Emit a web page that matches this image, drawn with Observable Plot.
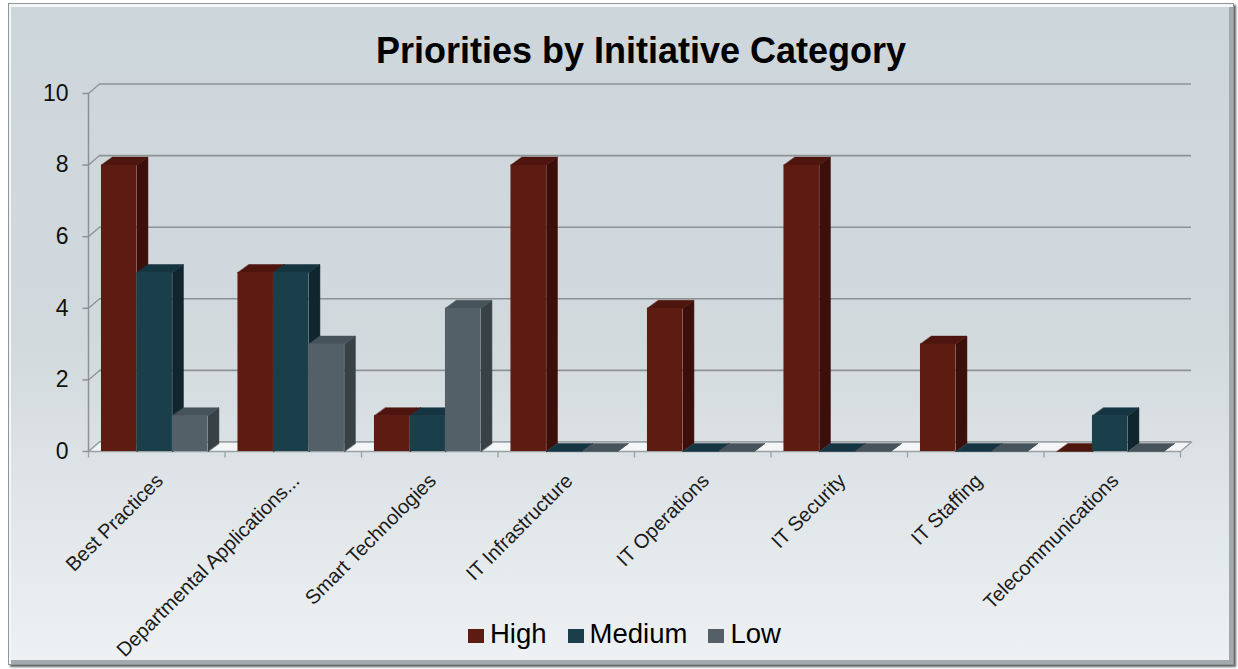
<!DOCTYPE html>
<html>
<head>
<meta charset="utf-8">
<script src="https://cdn.jsdelivr.net/npm/d3@7"></script>
<script src="https://cdn.jsdelivr.net/npm/@observablehq/plot@0.6"></script>
<style>
  body { margin: 0; width: 1238px; height: 669px; position: relative; overflow: hidden; background: #ffffff; font-family: "Liberation Sans", Arial, sans-serif; }
  #frame { position: absolute; left: 8px; top: 3px; width: 1226px; height: 662px; box-sizing: border-box;
    background: linear-gradient(#cdd6da 0%, #d1d9dd 50%, #eef1f3 100%);
    border: 1px solid #8f9699;
    box-shadow: inset 2px 3px 0 #f3f6f7, inset -4px -4px 0 #a3aaad, 2px 2px 2px #5d6366; }
  #chart { position: absolute; left: 0; top: 0; }
  #title { position: absolute; left: 0; top: 33px; width: 1282px; text-align: center; font-weight: bold; font-size: 36px; line-height: 35px; color: #000; }
  #legend { position: absolute; left: 468px; top: 620px; font-size: 27.5px; line-height: 27px; color: #000; white-space: nowrap; }
  #legend .item { display: inline-block; margin-right: 21px; }
  #legend .sw { display: inline-block; width: 16px; height: 14px; margin-right: 6px; vertical-align: baseline; }
</style>
</head>
<body>
<div id="frame"></div>
<div id="chart"></div>
<div id="title">Priorities by Initiative Category</div>
<div id="legend"></div>
<script>
// ---- data ----
const categories = ["Best Practices", "Departmental Applications...", "Smart Technologies", "IT Infrastructure", "IT Operations", "IT Security", "IT Staffing", "Telecommunications"];
const series = ["High", "Medium", "Low"];
const high   = [8, 5, 1, 8, 4, 8, 3, 0];
const medium = [5, 5, 1, 0, 0, 0, 0, 1];
const low    = [1, 3, 4, 0, 0, 0, 0, 0];
const yTicks = [0, 2, 4, 6, 8, 10];

// ---- styles / layout ----
const frontColors = ["#5e1b11", "#1b3e4b", "#536067"];
const sideColors  = ["#3d0f0a", "#0f262e", "#384246"];
const topColors   = ["#4d150e", "#163542", "#47535a"];
const W = 1238, H = 669, mL = 88, mR = 58, mT = 93, mB = 218;
const PX_X = (W - mL - mR) / categories.length;
const PX_Y = (H - mT - mB) / 10;
const DXW = 11 / PX_X, DYW = 9.5 / PX_Y;   // wall depth in data units
const DXB = 11 / PX_X, DYB = 8 / PX_Y;     // bar depth in data units
const BAR_START = 0.095, BAR_W = 0.26;

const valuesBySeries = [high, medium, low];
const rows = categories.flatMap((c, i) => series.map((s, k) => {
  const x1 = i + BAR_START + k * BAR_W;
  return {cat: c, i, k, series: s, value: valuesBySeries[k][i], x1, x2: x1 + BAR_W};
}));

const sidePts = rows.flatMap((d, j) => [
  {id: j, x: d.x2, y: 0, c: sideColors[d.k]},
  {id: j, x: d.x2, y: d.value, c: sideColors[d.k]},
  {id: j, x: d.x2 + DXB, y: d.value + DYB, c: sideColors[d.k]},
  {id: j, x: d.x2 + DXB, y: DYB, c: sideColors[d.k]}
]);
const topPts = rows.flatMap((d, j) => [
  {id: j, x: d.x1, y: d.value, c: topColors[d.k]},
  {id: j, x: d.x2, y: d.value, c: topColors[d.k]},
  {id: j, x: d.x2 + DXB, y: d.value + DYB, c: topColors[d.k]},
  {id: j, x: d.x1 + DXB, y: d.value + DYB, c: topColors[d.k]}
]);
const n = categories.length;
const floorPts = [{x: 0, y: 0}, {x: n, y: 0}, {x: n + DXW, y: DYW}, {x: DXW, y: DYW}];
const catTicks = d3.range(n + 1);

const plot = Plot.plot({
  width: W, height: H,
  marginLeft: mL, marginRight: mR, marginTop: mT, marginBottom: mB,
  x: {domain: [0, n], axis: null},
  y: {domain: [0, 10], axis: null},
  style: {background: "transparent", fontFamily: "'Liberation Sans', Arial, sans-serif", color: "#000"},
  marks: [
    // back wall gridlines
    Plot.ruleY(yTicks, {y: t => t + DYW, x1: DXW, x2: n + DXW, stroke: "#8c9295", strokeWidth: 1.6}),
    // diagonals from axis ticks to back wall
    Plot.link(yTicks, {x1: 0, y1: t => t, x2: DXW, y2: t => t + DYW, stroke: "#8c9295", strokeWidth: 1.3}),
    // floor
    Plot.line(floorPts, {x: "x", y: "y", curve: "linear-closed", fill: "#f3f5f6", stroke: "#9aa1a4", strokeWidth: 1.5}),
    // y axis line and ticks
    Plot.ruleX([0], {y1: 0, y2: 10, stroke: "#8c9295", strokeWidth: 1.5}),
    Plot.link(yTicks, {x1: -6 / PX_X, x2: 0, y1: t => t, y2: t => t, stroke: "#8c9295", strokeWidth: 1.5}),
    Plot.text(yTicks, {x: 0, y: t => t, text: t => String(t), textAnchor: "end", dx: -20, fontSize: 23, fill: "#111"}),
    // x ticks
    Plot.link(catTicks, {x1: d => d, x2: d => d, y1: 0, y2: -6 / PX_Y, stroke: "#9aa1a4", strokeWidth: 1.3}),
    // bars (3D)
    Plot.line(sidePts, {x: "x", y: "y", z: "id", fill: "c", stroke: "c", strokeWidth: 0.5, curve: "linear-closed"}),
    Plot.line(topPts, {x: "x", y: "y", z: "id", fill: "c", stroke: "c", strokeWidth: 0.5, curve: "linear-closed"}),
    Plot.rect(rows, {x1: "x1", x2: "x2", y1: 0, y2: "value", fill: d => frontColors[d.k]}),
    // category labels
    Plot.text(categories, {x: (d, i) => i + 0.5, y: 0, text: d => d, rotate: -45, textAnchor: "end", dx: 3, dy: 26, fontSize: 20, fill: "#1a1a1a"})
  ]
});
document.getElementById("chart").appendChild(plot);

// legend
const legend = document.getElementById("legend");
series.forEach((s, k) => {
  const item = document.createElement("span");
  item.className = "item";
  const sw = document.createElement("span");
  sw.className = "sw";
  sw.style.background = frontColors[k];
  item.appendChild(sw);
  item.appendChild(document.createTextNode(s));
  legend.appendChild(item);
});
</script>
</body>
</html>
